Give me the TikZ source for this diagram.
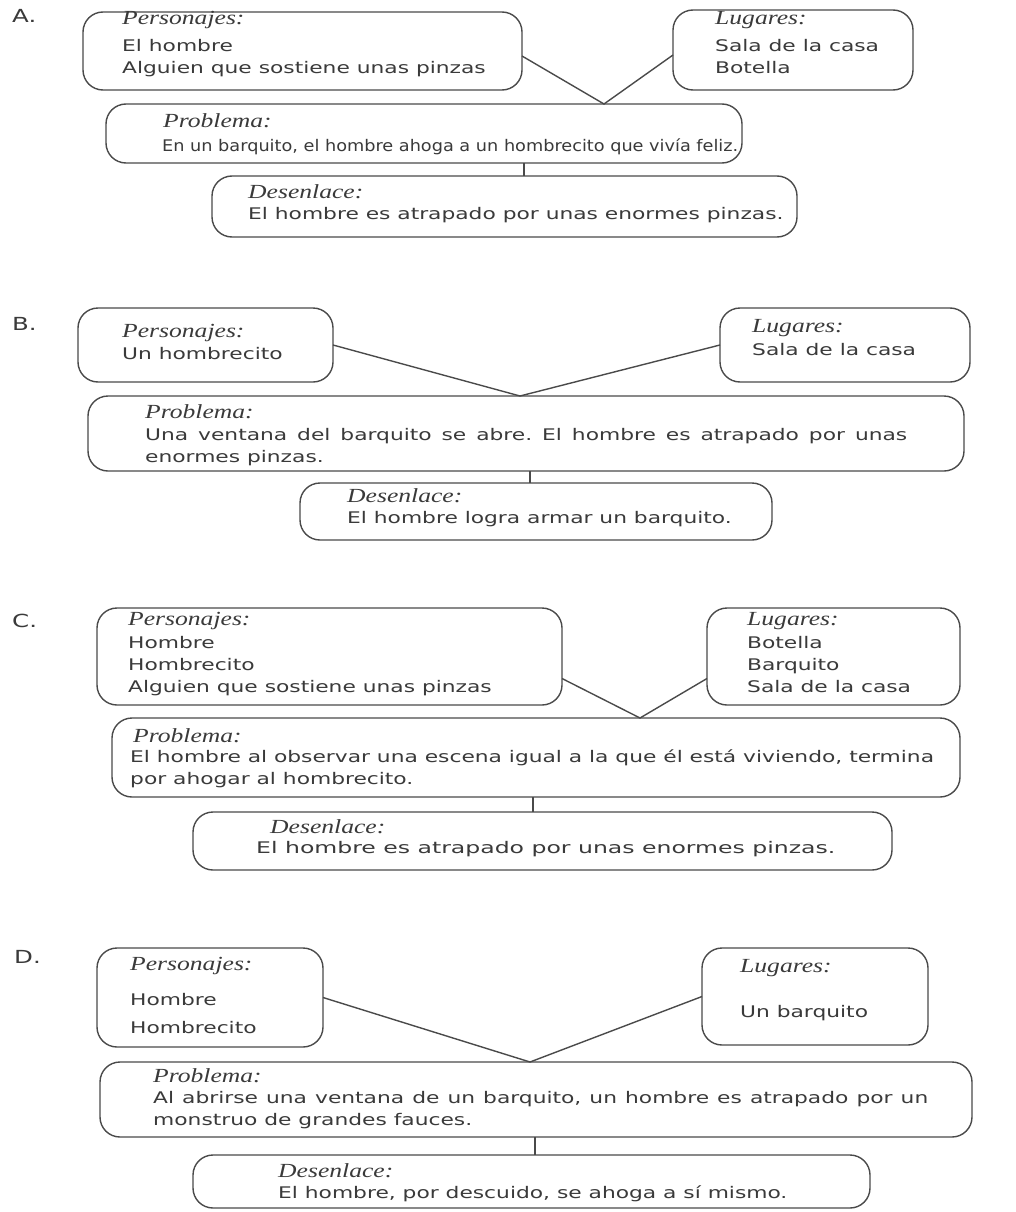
\documentclass[tikz,border=0pt]{standalone}
\usepackage{fontspec}
\usepackage{graphicx}
\newfontfamily\bodyfont{DejaVu Sans}[FakeStretch=1.36]
\newfontfamily\labfont{Liberation Serif}[FakeStretch=1.28]
\usetikzlibrary{calc}
\definecolor{ink}{HTML}{3A3A3A}
\definecolor{edge}{HTML}{4A4A4A}
\newcommand\fitw[2]{\resizebox{#1}{\height}{#2}}
\tikzset{
  box/.style={draw=edge, line width=1.4pt, rounded corners=20pt, inner sep=0pt, outer sep=0pt, anchor=north west},
  conn/.style={draw=edge, line width=1.4pt},
  lab/.style={anchor=base west, inner sep=0pt, text=ink, font=\labfont\itshape\fontsize{20}{22}\selectfont},
  txt/.style={anchor=base west, inner sep=0pt, text=ink, font=\bodyfont\frenchspacing\fontsize{16}{22}\selectfont},
  sec/.style={anchor=base west, inner sep=0pt, text=ink, font=\bodyfont\fontsize{18}{22}\selectfont},
}
\begin{document}
\begin{tikzpicture}[x=1pt,y=-1pt]
\useasboundingbox (0,0) rectangle (1016,1212);
\fill[white] (0,0) rectangle (1016,1212);

% ---------------- A ----------------
\node[sec] (secA) at (12,23) {A.};
\node[box, minimum width=439pt, minimum height=78pt] (pA) at (83,12) {};
\node[box, minimum width=240pt, minimum height=80pt] (lA) at (673,10) {};
\node[box, minimum width=636pt, minimum height=59pt] (rA) at (106,104) {};
\node[box, minimum width=585pt, minimum height=61pt] (dA) at (212,176) {};
\coordinate (apexA) at (604,104);
\coordinate (jA) at (524,0);
\draw[conn] ([yshift=-5pt]pA.east) -- (apexA) -- ([yshift=-5pt]lA.west);
\draw[conn] (rA.south -| jA) -- (dA.north -| jA);
\node[lab] (pA1) at (122,25) {Personajes:};
\node[txt] (pA2) at (122,52) {El hombre};
\node[txt] (pA3) at (122,74) {Alguien que sostiene unas pinzas};
\node[lab] (lA1) at (715,25) {Lugares:};
\node[txt] (lA2) at (715,52) {Sala de la casa};
\node[txt] (lA3) at (715,74) {Botella};
\node[lab] (rA1) at (163,128) {Problema:};
\node[txt] (rA2) at (162,151) {\fitw{576pt}{En un barquito, el hombre ahoga a un hombrecito que vivía feliz.}};
\node[lab] (dA1) at (248,198) {Desenlace:};
\node[txt] (dA2) at (248,219) {El hombre es atrapado por unas enormes pinzas.};

% ---------------- B ----------------
\node[sec] (secB) at (12,330) {B.};
\node[box, minimum width=255pt, minimum height=74pt] (pB) at (78,308) {};
\node[box, minimum width=250pt, minimum height=74pt] (lB) at (720,308) {};
\node[box, minimum width=876pt, minimum height=75pt] (rB) at (88,396) {};
\node[box, minimum width=472pt, minimum height=57pt] (dB) at (300,483) {};
\coordinate (apexB) at (520,396);
\coordinate (jB) at (530,0);
\draw[conn] (pB.east) -- (apexB) -- (lB.west);
\draw[conn] (rB.south -| jB) -- (dB.north -| jB);
\node[lab] (pB1) at (122,337) {Personajes:};
\node[txt] (pB2) at (122,359) {Un hombrecito};
\node[lab] (lB1) at (752,332) {Lugares:};
\node[txt] (lB2) at (752,355) {Sala de la casa};
\node[lab] (rB1) at (145,418) {Problema:};
\node[txt] (rB2) at (145,440) {\makebox[762pt][s]{Una ventana del barquito se abre. El hombre es atrapado por unas}};
\node[txt] (rB3) at (145,462) {enormes pinzas.};
\node[lab] (dB1) at (347,502) {Desenlace:};
\node[txt] (dB2) at (347,523) {El hombre logra armar un barquito.};

% ---------------- C ----------------
\node[sec] (secC) at (12,627) {C.};
\node[box, minimum width=465pt, minimum height=97pt] (pC) at (97,608) {};
\node[box, minimum width=253pt, minimum height=97pt] (lC) at (707,608) {};
\node[box, minimum width=848pt, minimum height=79pt] (rC) at (112,718) {};
\node[box, minimum width=699pt, minimum height=58pt] (dC) at (193,812) {};
\coordinate (apexC) at (640,718);
\coordinate (jC) at (533,0);
\draw[conn] ([yshift=-22pt]pC.east) -- (apexC) -- ([yshift=-22pt]lC.west);
\draw[conn] (rC.south -| jC) -- (dC.north -| jC);
\node[lab] (pC1) at (128,625) {Personajes:};
\node[txt] (pC2) at (128,648) {Hombre};
\node[txt] (pC3) at (128,670) {Hombrecito};
\node[txt] (pC4) at (128,692) {Alguien que sostiene unas pinzas};
\node[lab] (lC1) at (747,625) {Lugares:};
\node[txt] (lC2) at (747,648) {Botella};
\node[txt] (lC3) at (747,670) {Barquito};
\node[txt] (lC4) at (747,692) {Sala de la casa};
\node[lab] (rC1) at (133,742) {Problema:};
\node[txt] (rC2) at (130,762) {El hombre al observar una escena igual a la que él está viviendo, termina};
\node[txt] (rC3) at (130,784) {por ahogar al hombrecito.};
\node[lab] (dC1) at (270,833) {Desenlace:};
\node[txt] (dC2) at (256,853) {\fitw{579pt}{El hombre es atrapado por unas enormes pinzas.}};

% ---------------- D ----------------
\node[sec] (secD) at (14,963) {D.};
\node[box, minimum width=226pt, minimum height=99pt] (pD) at (97,948) {};
\node[box, minimum width=226pt, minimum height=97pt] (lD) at (702,948) {};
\node[box, minimum width=872pt, minimum height=75pt] (rD) at (100,1062) {};
\node[box, minimum width=677pt, minimum height=53pt] (dD) at (193,1155) {};
\coordinate (apexD) at (530,1062);
\coordinate (jD) at (535,0);
\draw[conn] (pD.east) -- (apexD) -- (lD.west);
\draw[conn] (rD.south -| jD) -- (dD.north -| jD);
\node[lab] (pD1) at (130,970) {Personajes:};
\node[txt] (pD2) at (130,1005) {Hombre};
\node[txt] (pD3) at (130,1033) {Hombrecito};
\node[lab] (lD1) at (740,972) {Lugares:};
\node[txt] (lD2) at (740,1017) {Un barquito};
\node[lab] (rD1) at (153,1082) {Problema:};
\node[txt] (rD2) at (153,1103) {\makebox[775pt][s]{Al abrirse una ventana de un barquito, un hombre es atrapado por un}};
\node[txt] (rD3) at (153,1125) {monstruo de grandes fauces.};
\node[lab] (dD1) at (278,1177) {Desenlace:};
\node[txt] (dD2) at (278,1198) {El hombre, por descuido, se ahoga a sí mismo.};
\end{tikzpicture}
\end{document}
